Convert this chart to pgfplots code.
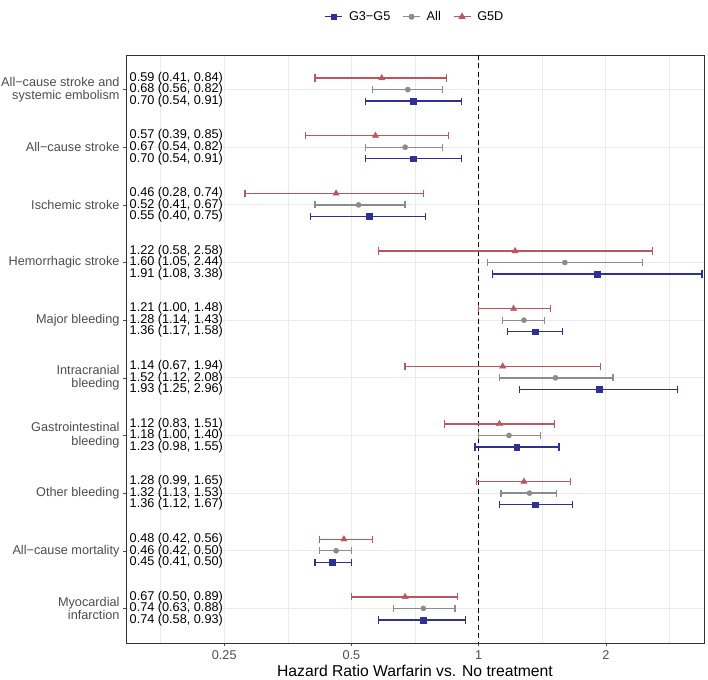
\documentclass[border=0pt]{standalone}
\usepackage{pgfplots}
\pgfplotsset{compat=1.18}
\usepackage{pgfplotstable}
\usepackage{fontspec}
\setmainfont{Liberation Sans}
\definecolor{cblue}{HTML}{2E3192}
\definecolor{cgrey}{HTML}{8C8C8C}
\definecolor{cred}{HTML}{BC5560}
\definecolor{gridc}{HTML}{EBEBEB}
\definecolor{tickc}{HTML}{4D4D4D}
\definecolor{framec}{HTML}{333333}

% G5D (red), row offset -0.2
\pgfplotstableread{
y est lo hi
0.8 0.59 0.41 0.84
1.8 0.57 0.39 0.85
2.8 0.46 0.28 0.74
3.8 1.22 0.58 2.58
4.8 1.21 1.00 1.48
5.8 1.14 0.67 1.94
6.8 1.12 0.83 1.51
7.8 1.28 0.99 1.65
8.8 0.48 0.42 0.56
9.8 0.67 0.50 0.89
}\redtab
% All (grey), row offset 0
\pgfplotstableread{
y est lo hi
1 0.68 0.56 0.82
2 0.67 0.54 0.82
3 0.52 0.41 0.67
4 1.60 1.05 2.44
5 1.28 1.14 1.43
6 1.52 1.12 2.08
7 1.18 1.00 1.40
8 1.32 1.13 1.53
9 0.46 0.42 0.50
10 0.74 0.63 0.88
}\greytab
% G3-G5 (blue), row offset +0.2
\pgfplotstableread{
y est lo hi
1.2 0.70 0.54 0.91
2.2 0.70 0.54 0.91
3.2 0.55 0.40 0.75
4.2 1.91 1.08 3.38
5.2 1.36 1.17 1.58
6.2 1.93 1.25 2.96
7.2 1.23 0.98 1.55
8.2 1.36 1.12 1.67
9.2 0.45 0.41 0.50
10.2 0.74 0.58 0.93
}\bluetab

\newcommand{\sm}{\fontsize{12.7}{13.6}\selectfont}

\begin{document}
\begin{tikzpicture}
\useasboundingbox (0,0) rectangle (708pt,679pt);
\begin{axis}[
  at={(126pt,36pt)}, anchor=south west,
  scale only axis, width=578pt, height=588pt,
  xmode=log, xmin=0.1464, xmax=3.415,
  ymin=0.4, ymax=10.6, y dir=reverse,
  xtick={0.25,0.5,1,2}, xticklabels={0.25,0.5,1,2},
  minor xtick={0.1768,0.3536,0.7071,1.4142,2.8284},
  ytick={1,...,10},
  yticklabels={{All−cause stroke and\\systemic embolism},{All−cause stroke},{Ischemic stroke},{Hemorrhagic stroke},{Major bleeding},{Intracranial\\bleeding},{Gastrointestinal\\bleeding},{Other bleeding},{All−cause mortality},{Myocardial\\infarction}},
  yticklabel style={align=right, font=\sm, text=tickc},
  xticklabel style={font=\sm, text=tickc, yshift=-1pt},
  /pgf/number format/assume math mode=true,
  tick align=outside, major tick length=3pt,
  minor tick length=0pt,
  xtick pos=bottom, ytick pos=left,
  tick style={color=tickc, line width=0.5pt},
  grid=both,
  major grid style={gridc, line width=0.9pt},
  minor grid style={gridc, line width=0.5pt},
  axis line style={framec, line width=0.6pt},
  xlabel={Hazard Ratio Warfarin vs. No treatment},
  xlabel style={font=\fontsize{15.7}{17}\selectfont, yshift=1.5pt},
  clip=false,
  unbounded coords=jump,
  legend style={at={(0.5,1.065)}, anchor=center, legend columns=3, draw=none, fill=none, font=\sm,
    /tikz/every odd column/.append style={column sep=4pt},
    /tikz/every even column/.append style={column sep=10pt}},
  legend cell align=left,
]
\addplot[black, line width=1.4pt, dash pattern=on 5pt off 3.5pt, forget plot] coordinates {(1,0.4) (1,10.6)};

% confidence intervals (lo--hi) with end caps
\addplot[cred, line width=1.35pt, mark=|, mark size=3.6pt, forget plot] coordinates {
 (0.41,0.8) (0.84,0.8) (nan,nan)
 (0.39,1.8) (0.85,1.8) (nan,nan)
 (0.28,2.8) (0.74,2.8) (nan,nan)
 (0.58,3.8) (2.58,3.8) (nan,nan)
 (1.00,4.8) (1.48,4.8) (nan,nan)
 (0.67,5.8) (1.94,5.8) (nan,nan)
 (0.83,6.8) (1.51,6.8) (nan,nan)
 (0.99,7.8) (1.65,7.8) (nan,nan)
 (0.42,8.8) (0.56,8.8) (nan,nan)
 (0.50,9.8) (0.89,9.8)};
\addplot[cgrey, line width=1.35pt, mark=|, mark size=3.6pt, forget plot] coordinates {
 (0.56,1) (0.82,1) (nan,nan)
 (0.54,2) (0.82,2) (nan,nan)
 (0.41,3) (0.67,3) (nan,nan)
 (1.05,4) (2.44,4) (nan,nan)
 (1.14,5) (1.43,5) (nan,nan)
 (1.12,6) (2.08,6) (nan,nan)
 (1.00,7) (1.40,7) (nan,nan)
 (1.13,8) (1.53,8) (nan,nan)
 (0.42,9) (0.50,9) (nan,nan)
 (0.63,10) (0.88,10)};
\addplot[cblue, line width=1.35pt, mark=|, mark size=3.6pt, forget plot] coordinates {
 (0.54,1.2) (0.91,1.2) (nan,nan)
 (0.54,2.2) (0.91,2.2) (nan,nan)
 (0.40,3.2) (0.75,3.2) (nan,nan)
 (1.08,4.2) (3.38,4.2) (nan,nan)
 (1.17,5.2) (1.58,5.2) (nan,nan)
 (1.25,6.2) (2.96,6.2) (nan,nan)
 (0.98,7.2) (1.55,7.2) (nan,nan)
 (1.12,8.2) (1.67,8.2) (nan,nan)
 (0.41,9.2) (0.50,9.2) (nan,nan)
 (0.58,10.2) (0.93,10.2)};

% point estimates
\addplot[only marks, mark=triangle*, mark size=3.6pt, color=cred, forget plot] table[x=est, y=y] {\redtab};
\addplot[only marks, mark=*, mark size=2.6pt, color=cgrey, forget plot] table[x=est, y=y] {\greytab};
\addplot[only marks, mark=square*, mark size=2.8pt, color=cblue, forget plot] table[x=est, y=y] {\bluetab};

\addlegendimage{cblue, line width=1.35pt, mark=square*, mark size=2.5pt}
\addlegendentry{G3−G5}
\addlegendimage{cgrey, line width=1.35pt, mark=*, mark size=2.3pt}
\addlegendentry{All}
\addlegendimage{cred, line width=1.35pt, mark=triangle*, mark size=3pt}
\addlegendentry{G5D}

\foreach \yy/\a/\b/\c in {
 1/{0.59 (0.41, 0.84)}/{0.68 (0.56, 0.82)}/{0.70 (0.54, 0.91)},
 2/{0.57 (0.39, 0.85)}/{0.67 (0.54, 0.82)}/{0.70 (0.54, 0.91)},
 3/{0.46 (0.28, 0.74)}/{0.52 (0.41, 0.67)}/{0.55 (0.40, 0.75)},
 4/{1.22 (0.58, 2.58)}/{1.60 (1.05, 2.44)}/{1.91 (1.08, 3.38)},
 5/{1.21 (1.00, 1.48)}/{1.28 (1.14, 1.43)}/{1.36 (1.17, 1.58)},
 6/{1.14 (0.67, 1.94)}/{1.52 (1.12, 2.08)}/{1.93 (1.25, 2.96)},
 7/{1.12 (0.83, 1.51)}/{1.18 (1.00, 1.40)}/{1.23 (0.98, 1.55)},
 8/{1.28 (0.99, 1.65)}/{1.32 (1.13, 1.53)}/{1.36 (1.12, 1.67)},
 9/{0.48 (0.42, 0.56)}/{0.46 (0.42, 0.50)}/{0.45 (0.41, 0.50)},
 10/{0.67 (0.50, 0.89)}/{0.74 (0.63, 0.88)}/{0.74 (0.58, 0.93)}} {
  \edef\temp{\noexpand\node[anchor=west, font=\noexpand\sm, inner sep=0pt, xshift=3.5pt] at (axis cs:0.1464,\yy-0.2) {\a};
  \noexpand\node[anchor=west, font=\noexpand\sm, inner sep=0pt, xshift=3.5pt] at (axis cs:0.1464,\yy) {\b};
  \noexpand\node[anchor=west, font=\noexpand\sm, inner sep=0pt, xshift=3.5pt] at (axis cs:0.1464,\yy+0.2) {\c};}
  \temp
}
\end{axis}
\end{tikzpicture}
\end{document}
